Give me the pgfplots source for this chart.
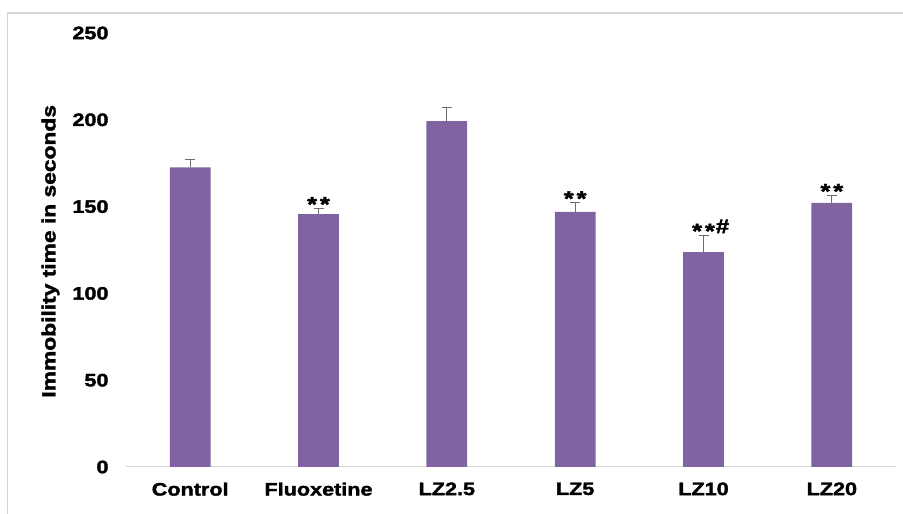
\documentclass[border=0pt]{standalone}
\usepackage{pgfplots}
\pgfplotsset{compat=1.18}
\usepackage{pgfplotstable}
\usepackage{fontspec}
\setmainfont{Liberation Sans}[FakeStretch=1.2, BoldFeatures={FakeBold=2}]
\definecolor{barpurple}{HTML}{8064A2}
\definecolor{framegray}{HTML}{D4D4D4}
\definecolor{axisgray}{HTML}{D9D9D9}
\definecolor{errgray}{HTML}{6E6E6E}

% group, mean immobility time (s), SEM
\pgfplotstableread{
x  y      err
0  172.6  4.8
1  145.7  3.1
2  199.3  7.7
3  146.9  5.2
4  123.8  9.6
5  152.2  4.1
}\immobility

% significance marks above the error bars
\newcommand{\sig}{{\fontsize{21bp}{22bp}\selectfont *\kern3bp*}}
\newcommand{\hashmark}{{\fontsize{20bp}{22bp}\selectfont\raisebox{5bp}{\#}}}

\begin{document}
\begin{tikzpicture}[x=1bp,y=1bp]
\useasboundingbox (0,0) rectangle (903,514);
\draw[framegray, line width=1.6bp] (7.5,0) -- (7.5,501) -- (903,501);
\begin{axis}[
  at={(126bp,47bp)}, anchor=south west,
  scale only axis, width=770bp, height=434bp,
  font=\fontsize{18bp}{20bp}\selectfont\bfseries,
  /pgf/number format/assume math mode=true,
  xmin=-0.5, xmax=5.5, ymin=0, ymax=250,
  ytick={0,50,...,250},
  xtick={0,...,5},
  xticklabels={Control,Fluoxetine,LZ2.5,LZ5,LZ10,LZ20},
  axis y line*=left, axis x line*=bottom,
  y axis line style={draw=none},
  x axis line style={axisgray, line width=1bp, -},
  major tick length=0pt,
  xticklabel style={yshift=-12bp},
  yticklabel style={xshift=-14bp},
  ylabel={Immobility time in seconds},
  ylabel style={font=\fontsize{19bp}{20bp}\selectfont\bfseries,
    at={(axis description cs:-0.098,0.497)}, anchor=center},
  clip=false,
]
\addplot[ybar, bar width=40.7bp, fill=barpurple, draw=none,
  error bars/.cd, y dir=plus, y explicit,
  error bar style={errgray, line width=0.9bp},
  error mark options={rotate=90, mark size=5bp, errgray, line width=0.9bp}]
  table[x=x, y=y, y error=err] {\immobility};
\node[anchor=south, inner sep=0pt, yshift=-3bp] at (axis cs:1,148.8) {\sig};
\node[anchor=south, inner sep=0pt, yshift=-3bp] at (axis cs:3,152.1) {\sig};
\node[anchor=south, inner sep=0pt, yshift=-3bp] at (axis cs:4,133.4) {\sig\rlap{\kern1bp\hashmark}};
\node[anchor=south, inner sep=0pt, yshift=-3bp] at (axis cs:5,156.3) {\sig};
\end{axis}
\end{tikzpicture}
\end{document}
